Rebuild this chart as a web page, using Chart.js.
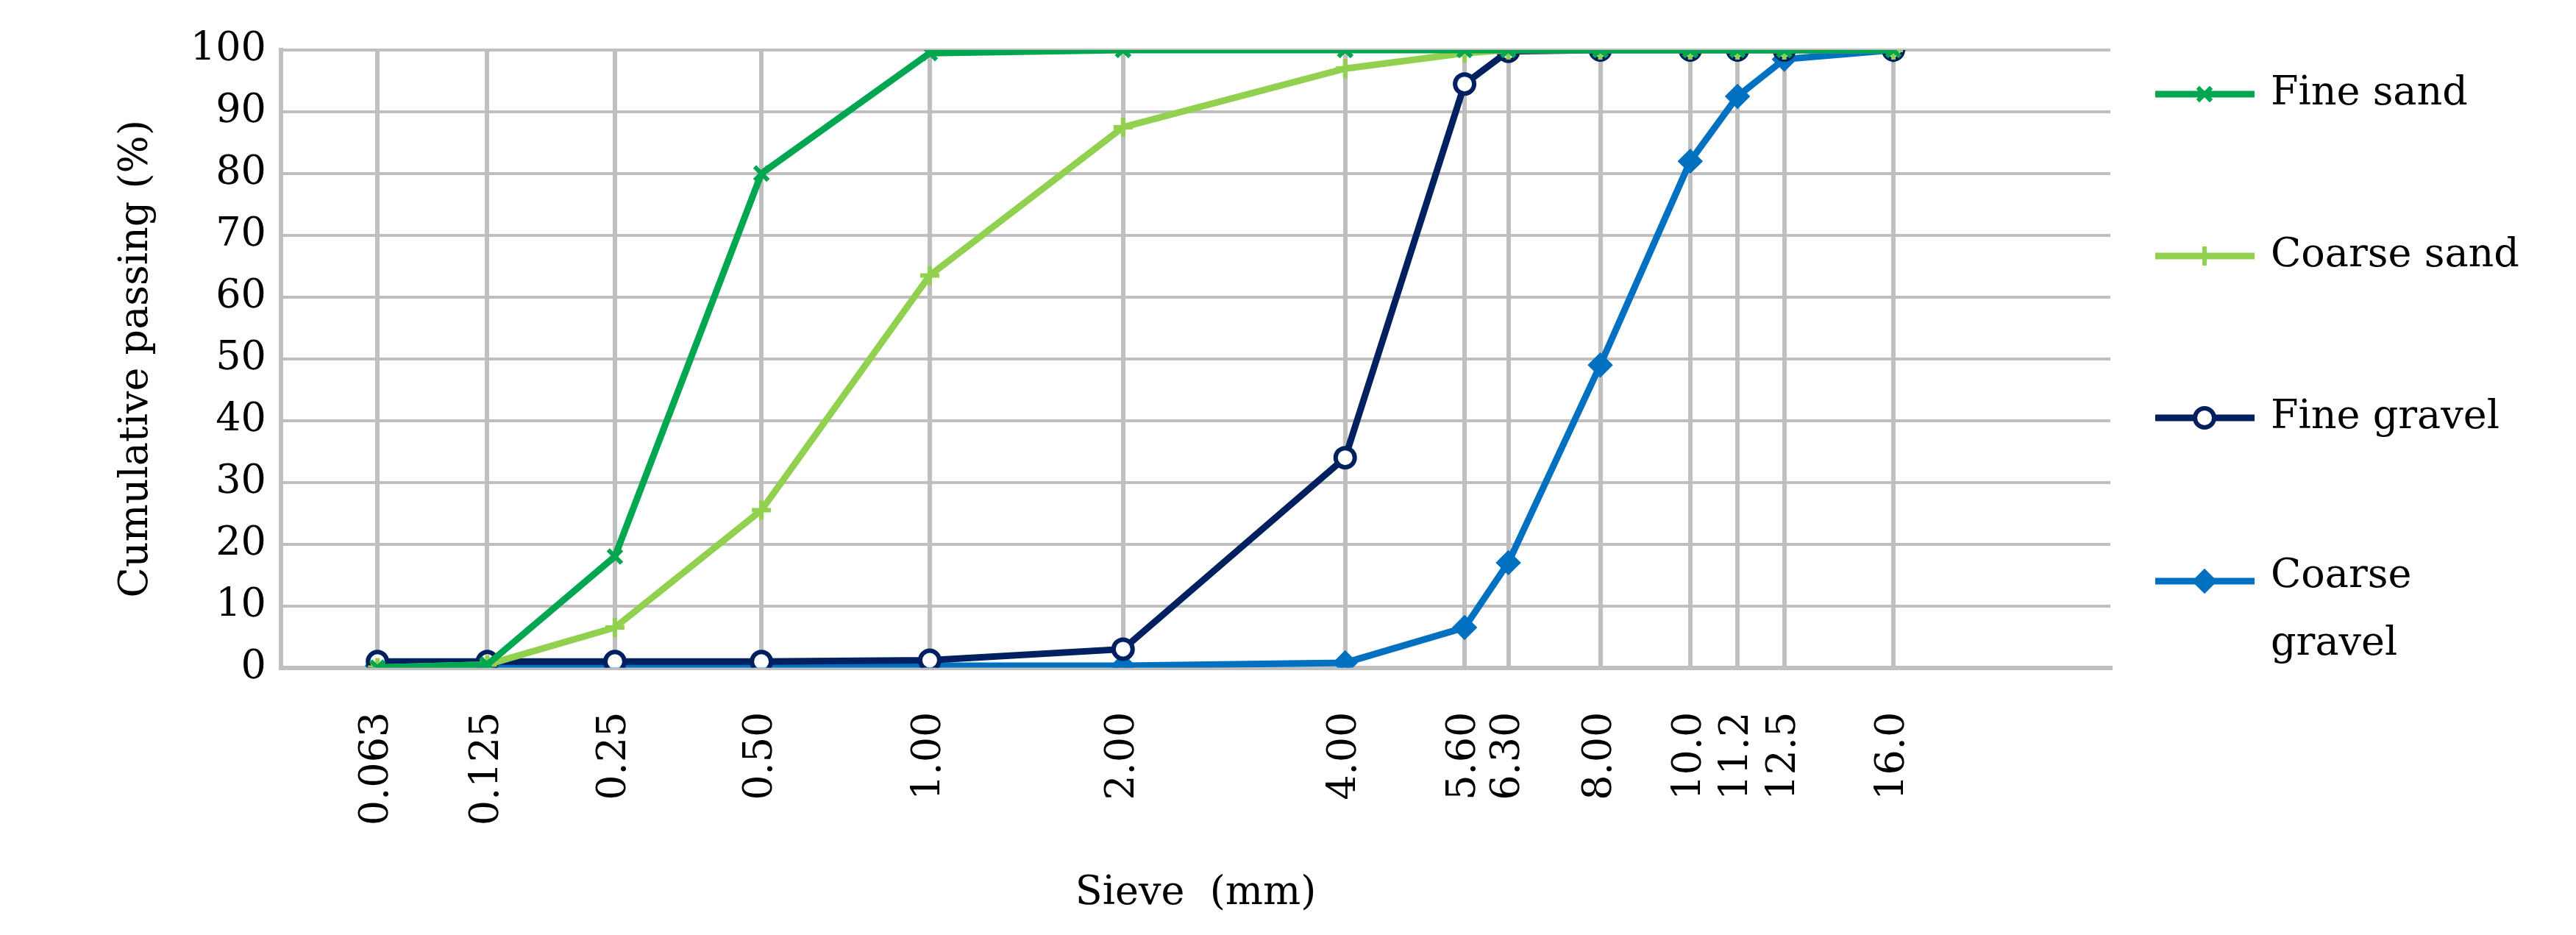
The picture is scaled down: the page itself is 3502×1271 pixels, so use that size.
<!DOCTYPE html>
<html>
<head>
<meta charset="utf-8">
<script src="https://cdn.jsdelivr.net/npm/chart.js@4.4.0/dist/chart.umd.min.js"></script>
<style>
  body { margin: 0; background: #fff; }
  #wrap { width: 3502px; height: 1271px; }
</style>
</head>
<body>
<div id="wrap"><canvas id="chart1"></canvas></div>
<script>
const sieves = [0.063, 0.125, 0.25, 0.5, 1, 2, 4, 5.6, 6.3, 8, 10, 11.2, 12.5, 16];
const sieveLabels = ["0.063", "0.125", "0.25", "0.50", "1.00", "2.00", "4.00", "5.60", "6.30", "8.00", "10.0", "11.2", "12.5", "16.0"];
const fineSand = [0, 0.5, 18, 80, 99.5, 100, 100, 100, 100, 100, 100, 100, 100, 100];
const coarseSand = [0, 0.5, 6.5, 25.5, 63.5, 87.5, 97, 99.5, 100, 100, 100, 100, 100, 100];
const fineGravel = [1, 1, 1, 1, 1.2, 3, 34, 94.5, 99.8, 100, 100, 100, 100, 100];
const coarseGravel = [0.3, 0.3, 0.3, 0.3, 0.3, 0.3, 0.8, 6.5, 17, 49, 82, 92.5, 98.5, 100];

// sieve axis is drawn on a x^0.2 scale
const tf = (s) => Math.pow(s, 0.2);
const pts = (vals) => vals.map((v, i) => ({ x: tf(sieves[i]), y: v }));

const font = "'DejaVu Serif', serif";
const series = [
  { label: "Fine sand", data: fineSand, color: "#00A650", style: "crossRot", fill: "#00A650" },
  { label: "Coarse sand", data: coarseSand, color: "#92D050", style: "cross", fill: "#92D050" },
  { label: "Fine gravel", data: fineGravel, color: "#002060", style: "circle", fill: "#ffffff" },
  { label: "Coarse gravel", data: coarseGravel, color: "#0070C0", style: "rectRot", fill: "#0070C0" },
];

const legendPlugin = {
  id: "sideLegend",
  afterDraw(chart) {
    const ctx = chart.ctx;
    const ys = [128, 348, 568, 790];
    ctx.save();
    series.forEach((s, i) => {
      const y = ys[i];
      ctx.strokeStyle = s.color;
      ctx.lineWidth = 9;
      ctx.beginPath();
      ctx.moveTo(2930, y);
      ctx.lineTo(3065, y);
      ctx.stroke();
      ctx.fillStyle = s.fill;
      ctx.strokeStyle = s.color;
      ctx.lineWidth = 6;
      Chart.helpers.drawPoint(ctx, { pointStyle: s.style, radius: 13, rotation: 0, borderWidth: 6 }, 2997, y);
      ctx.fillStyle = "#000";
      ctx.font = "54px " + font;
      ctx.textBaseline = "middle";
      if (s.label === "Coarse gravel") {
        ctx.fillText("Coarse", 3087, y - 6);
        ctx.fillText("gravel", 3087, y + 86);
      } else {
        ctx.fillText(s.label, 3087, y);
      }
    });
    ctx.restore();
  },
};

new Chart(document.getElementById("chart1"), {
  type: "line",
  data: {
    datasets: series.map((s) => ({
      label: s.label,
      data: pts(s.data),
      borderColor: s.color,
      backgroundColor: s.fill,
      borderWidth: 9,
      pointStyle: s.style,
      pointRadius: 13,
      pointBorderWidth: 6,
      pointBorderColor: s.color,
      pointBackgroundColor: s.fill,
      tension: 0,
    })),
  },
  options: {
    responsive: true,
    maintainAspectRatio: false,
    animation: false,
    layout: { padding: { left: 150, right: 633, top: 68, bottom: 20 } },
    plugins: { legend: { display: false }, tooltip: { enabled: false } },
    scales: {
      x: {
        type: "linear",
        min: 0.501,
        max: 1.908,
        afterBuildTicks: (axis) => { axis.ticks = sieves.map((s) => ({ value: tf(s) })); },
        ticks: {
          autoSkip: false,
          minRotation: 90,
          maxRotation: 90,
          padding: 60,
          color: "#000",
          font: { family: font, size: 54 },
          callback: (v, i) => sieveLabels[i],
        },
        grid: { color: "#BFBFBF", lineWidth: 6, drawTicks: false },
        border: { color: "#BFBFBF", width: 6 },
        title: { display: true, text: "Sieve  (mm)", color: "#000", font: { family: font, size: 54 }, padding: { top: 0 } },
      },
      y: {
        min: 0,
        max: 100,
        ticks: { stepSize: 10, color: "#000", padding: 20, font: { family: font, size: 54 } },
        grid: { color: "#BFBFBF", lineWidth: 4, drawTicks: false },
        border: { color: "#BFBFBF", width: 6 },
        title: { display: true, text: "Cumulative passing (%)", color: "#000", font: { family: font, size: 54 }, padding: { bottom: 20 } },
      },
    },
  },
  plugins: [legendPlugin],
});
</script>
</body>
</html>
